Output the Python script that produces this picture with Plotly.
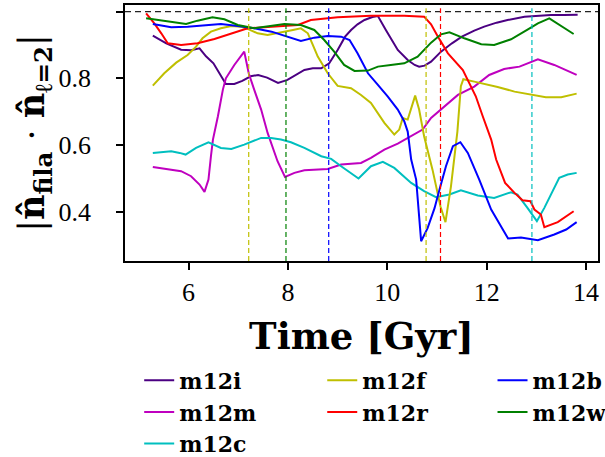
import plotly.graph_objects as go

# ---------------- data ----------------
m12i_t = [5.28, 5.55, 5.85, 6.05, 6.22, 6.35, 6.50, 6.62, 6.75, 6.92, 7.08, 7.25, 7.40, 7.58, 7.80, 7.99,
          8.15, 8.33, 8.50, 8.67, 8.83, 9.00, 9.15, 9.27, 9.40, 9.54, 9.70, 9.81, 9.97, 10.10, 10.21,
          10.41, 10.55, 10.64, 10.75, 10.88, 11.08, 11.30, 11.50, 11.75, 11.95, 12.20, 12.42, 12.76,
          13.00, 13.29, 13.55, 13.83]
m12i_v = [0.928, 0.905, 0.886, 0.884, 0.890, 0.866, 0.845, 0.815, 0.783, 0.783, 0.792, 0.806, 0.810,
          0.802, 0.786, 0.795, 0.808, 0.825, 0.830, 0.830, 0.845, 0.885, 0.925, 0.945, 0.962, 0.975,
          0.984, 0.987, 0.945, 0.912, 0.885, 0.855, 0.840, 0.835, 0.838, 0.850, 0.880, 0.905, 0.925,
          0.943, 0.955, 0.967, 0.975, 0.985, 0.988, 0.990, 0.990, 0.991]

m12m_t = [5.28, 5.58, 5.85, 6.05, 6.22, 6.32, 6.40, 6.45, 6.49, 6.59, 6.69, 6.75, 6.92, 7.12, 7.21,
          7.32, 7.46, 7.59, 7.66, 7.79, 7.94, 8.13, 8.33, 8.80, 9.07, 9.47, 9.67, 9.94, 10.21, 10.48,
          10.71, 10.88, 11.15, 11.42, 11.75, 12.05, 12.35, 12.66, 13.03, 13.36, 13.81]
m12m_v = [0.534, 0.526, 0.521, 0.506, 0.481, 0.459, 0.496, 0.566, 0.616, 0.686, 0.766, 0.800, 0.840,
          0.880, 0.815, 0.766, 0.706, 0.636, 0.606, 0.551, 0.504, 0.516, 0.524, 0.528, 0.541, 0.546,
          0.561, 0.586, 0.604, 0.626, 0.646, 0.681, 0.716, 0.750, 0.775, 0.810, 0.828, 0.835, 0.857,
          0.840, 0.810]

m12c_t = [5.28, 5.65, 5.82, 5.94, 6.15, 6.40, 6.65, 6.86, 7.12, 7.46, 7.66, 7.86, 8.06, 8.33, 8.67,
          8.87, 9.07, 9.42, 9.67, 9.91, 10.14, 10.48, 10.74, 10.98, 11.25, 11.48, 11.82, 12.15, 12.49,
          12.62, 12.82, 13.01, 13.16, 13.46, 13.63, 13.81]
m12c_v = [0.576, 0.581, 0.576, 0.571, 0.591, 0.608, 0.591, 0.588, 0.601, 0.621, 0.621, 0.616, 0.608,
          0.591, 0.566, 0.558, 0.536, 0.499, 0.536, 0.549, 0.531, 0.486, 0.461, 0.443, 0.451, 0.464,
          0.448, 0.441, 0.458, 0.451, 0.411, 0.371, 0.411, 0.501, 0.511, 0.516]

m12f_t = [5.28, 5.51, 5.75, 5.98, 6.15, 6.28, 6.45, 6.65, 6.86, 7.05, 7.21, 7.39, 7.59, 7.79, 7.93,
          8.10, 8.26, 8.40, 8.50, 8.60, 8.80, 9.00, 9.27, 9.47, 9.67, 9.94, 10.14, 10.24, 10.31, 10.41,
          10.56, 10.64, 10.74, 10.91, 11.07, 11.17, 11.28, 11.41, 11.48, 11.53, 11.75, 12.00, 12.22,
          12.56, 12.89, 13.19, 13.50, 13.81]
m12f_v = [0.778, 0.815, 0.847, 0.870, 0.895, 0.920, 0.940, 0.950, 0.957, 0.955, 0.947, 0.935, 0.930,
          0.935, 0.940, 0.945, 0.950, 0.935, 0.900, 0.865, 0.815, 0.777, 0.770, 0.750, 0.726, 0.666,
          0.631, 0.646, 0.681, 0.676, 0.748, 0.706, 0.626, 0.525, 0.415, 0.368, 0.475, 0.640, 0.776,
          0.797, 0.790, 0.782, 0.774, 0.760, 0.750, 0.743, 0.743, 0.754]

m12r_t = [5.145, 5.31, 5.45, 5.58, 5.85, 6.18, 6.52, 6.86, 7.19, 7.52, 7.86, 8.20, 8.46, 9.00, 9.67,
          10.34, 10.74, 10.88, 11.01, 11.22, 11.52, 11.65, 11.78, 11.92, 12.09, 12.19, 12.37, 12.56,
          12.72, 12.88, 12.96, 13.09, 13.16, 13.43, 13.75]
m12r_v = [0.995, 0.965, 0.935, 0.905, 0.900, 0.905, 0.918, 0.935, 0.950, 0.953, 0.957, 0.960, 0.975,
          0.983, 0.988, 0.988, 0.985, 0.962, 0.927, 0.875, 0.825, 0.786, 0.746, 0.686, 0.616, 0.556,
          0.486, 0.456, 0.434, 0.431, 0.406, 0.391, 0.353, 0.368, 0.401]

m12b_t = [5.28, 5.65, 5.98, 6.32, 6.65, 6.99, 7.32, 7.67, 8.00, 8.26, 8.53, 8.80, 9.07, 9.24, 9.40,
          9.61, 9.81, 10.01, 10.21, 10.34, 10.41, 10.48, 10.58, 10.68, 10.81, 10.95, 11.05, 11.18,
          11.32, 11.47, 11.62, 11.85, 12.09, 12.25, 12.43, 12.69, 13.03, 13.36, 13.60, 13.81]
m12b_v = [0.963, 0.953, 0.955, 0.960, 0.963, 0.957, 0.950, 0.940, 0.925, 0.912, 0.922, 0.927, 0.925,
          0.915, 0.875, 0.815, 0.780, 0.745, 0.706, 0.671, 0.640, 0.556, 0.496, 0.311, 0.350, 0.410,
          0.466, 0.536, 0.596, 0.608, 0.576, 0.496, 0.406, 0.366, 0.319, 0.322, 0.314, 0.331, 0.346,
          0.368]

m12w_t = [5.145, 5.51, 5.95, 6.18, 6.48, 6.72, 6.99, 7.32, 7.59, 7.93, 8.26, 8.53, 8.73, 8.93, 9.13,
          9.34, 9.61, 9.81, 10.07, 10.34, 10.61, 10.88, 11.08, 11.25, 11.55, 11.89, 12.15, 12.49,
          12.83, 13.03, 13.26, 13.53, 13.75]
m12w_v = [0.980, 0.973, 0.963, 0.973, 0.983, 0.977, 0.960, 0.950, 0.955, 0.963, 0.960, 0.945, 0.915,
          0.880, 0.840, 0.822, 0.823, 0.835, 0.840, 0.845, 0.865, 0.907, 0.932, 0.938, 0.920, 0.902,
          0.900, 0.917, 0.947, 0.965, 0.980, 0.955, 0.933]

# vertical markers (time, halo whose colour is used)
vline_t = [7.21, 7.96, 8.82, 10.78, 11.07, 12.91]
vline_halo = ["m12f", "m12w", "m12b", "m12f", "m12r", "m12c"]

reference_value = 1.0
x_ticks = [6, 8, 10, 12, 14]
y_ticks = [0.4, 0.6, 0.8, 1.0]
y_ticktext = ["0.4", "0.6", "0.8", "1.0"]

# ---------------- styling ----------------
colors = {
    "m12i": "#4b0082",
    "m12m": "#bf00bf",
    "m12c": "#00bfbf",
    "m12f": "#bfbf00",
    "m12r": "#ff0000",
    "m12b": "#0000ff",
    "m12w": "#008000",
}
# legend columns like matplotlib ncol=3 (filled column by column)
legend_of = {"m12i": "legend", "m12m": "legend", "m12c": "legend",
             "m12f": "legend2", "m12r": "legend2",
             "m12b": "legend3", "m12w": "legend3"}

series = [
    ("m12i", m12i_t, m12i_v),
    ("m12m", m12m_t, m12m_v),
    ("m12c", m12c_t, m12c_v),
    ("m12f", m12f_t, m12f_v),
    ("m12r", m12r_t, m12r_v),
    ("m12b", m12b_t, m12b_v),
    ("m12w", m12w_t, m12w_v),
]

fig = go.Figure()
for name, t, v in series:
    fig.add_trace(go.Scatter(
        x=t, y=v, mode="lines", name=name,
        line=dict(color=colors[name], width=2),
        legend=legend_of[name],
    ))

shapes = [dict(type="line", xref="paper", x0=0, x1=1, yref="y",
               y0=reference_value, y1=reference_value,
               line=dict(color="#222222", width=1.3, dash="6px,4px"))]
for t, h in zip(vline_t, vline_halo):
    shapes.append(dict(type="line", xref="x", x0=t, x1=t, yref="paper", y0=0, y1=0.987,
                       line=dict(color=colors[h], width=1.2, dash="5px,3px")))

tick_font = dict(family="Liberation Serif", size=26, color="black")
leg_font = dict(family="DejaVu Serif", size=22, color="black", weight="bold")


def leg(x):
    return dict(orientation="v", x=x, xanchor="left", y=-0.385, yanchor="top",
                font=leg_font, bgcolor="rgba(0,0,0,0)", tracegroupgap=0)


fig.update_layout(
    width=605, height=457,
    margin=dict(l=125, r=7, t=5, b=196, autoexpand=False),
    paper_bgcolor="white", plot_bgcolor="white",
    shapes=shapes,
    showlegend=True,
    legend=leg(0.030),
    legend2=leg(0.417),
    legend3=leg(0.777),
    xaxis=dict(
        range=[4.72, 14.24], tickvals=x_ticks, ticks="outside", ticklen=7, tickwidth=1.5,
        tickcolor="black", showline=True, linewidth=1.5, linecolor="black", mirror=True,
        showgrid=False, zeroline=False, tickfont=tick_font, automargin=False,
        title=dict(text="<b>Time [Gyr]</b>", font=dict(family="DejaVu Serif", size=37, color="black"),
                   standoff=17),
    ),
    yaxis=dict(
        range=[0.2515, 1.02], tickvals=y_ticks, ticktext=y_ticktext, ticks="outside", ticklen=7,
        tickwidth=1.5, tickcolor="black", showline=True, linewidth=1.5, linecolor="black",
        mirror=True, showgrid=False, zeroline=False, tickfont=tick_font, ticklabelstandoff=20,
        automargin=False,
        title=dict(text="|<b>n\u0302</b><sub><b>fila</b></sub> \u00b7 <b>n\u0302</b><sub><b>\u2113=2</b></sub>|",
                   font=dict(family="DejaVu Serif", size=35, color="black"), standoff=3),
    ),
)

fig.write_html("out.html")
